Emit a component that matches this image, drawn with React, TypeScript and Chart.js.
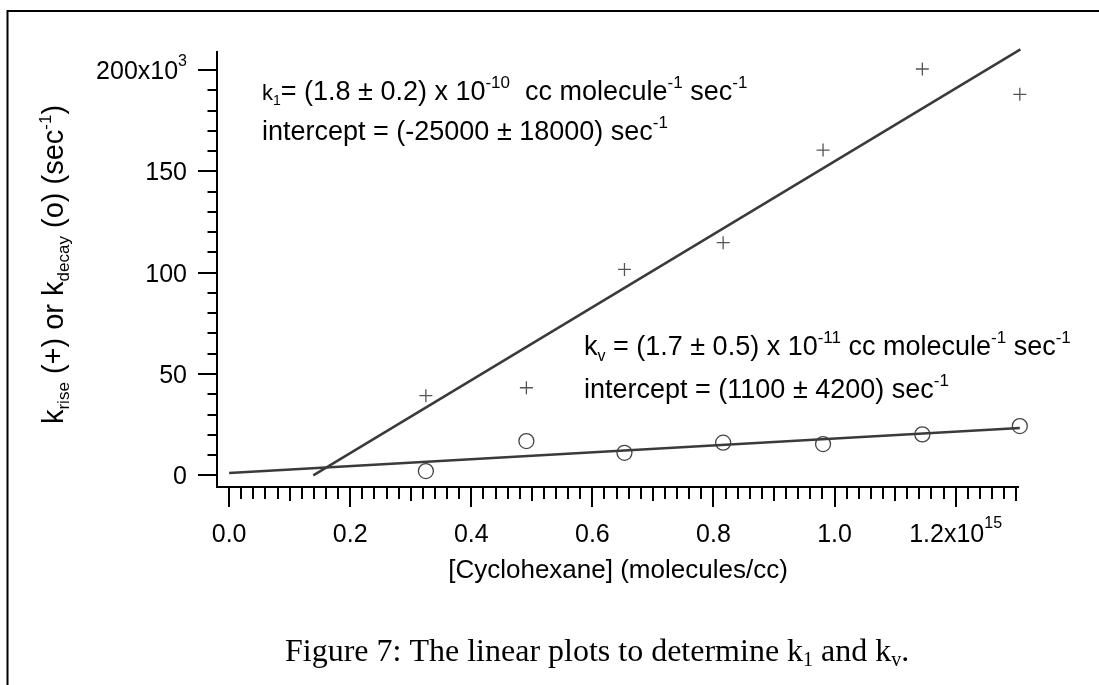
import React, { useEffect, useRef } from 'react';
import { Chart, registerables } from 'chart.js';

Chart.register(...registerables);

// ---- data (x in 10^15 molecules/cc, y in 10^3 sec^-1) ----
const concentration = [0.325, 0.491, 0.653, 0.816, 0.981, 1.145, 1.306];
const kRise = [39.3, 43.2, 101.6, 114.8, 160.5, 200.5, 188.0];
const kDecay = [2.1, 16.9, 11.1, 16.1, 15.4, 20.2, 24.3];

const riseFitX = [0.139, 1.307];
const riseFitY = [0.0, 210.2];
const decayFitX = [0.0, 1.306];
const decayFitY = [1.1, 23.3];

const xMajorTicks = [0, 0.2, 0.4, 0.6, 0.8, 1.0, 1.2];
const xTickLabels = ['0.0', '0.2', '0.4', '0.6', '0.8', '1.0', '1.2x10'];
const xTickExponents = ['', '', '', '', '', '', '15'];
const yMajorTicks = [0, 50, 100, 150, 200];
const yTickLabels = ['0', '50', '100', '150', '200x10'];
const yTickExponents = ['', '', '', '', '3'];

const SANS = '"Liberation Sans", Arial, sans-serif';
const SERIF = '"Liberation Serif", "Times New Roman", serif';

type Seg = { t: string; s: number; dy?: number };

function segWidth(ctx: CanvasRenderingContext2D, segs: Seg[], fam: string) {
  let w = 0;
  for (const g of segs) {
    ctx.font = `${g.s}px ${fam}`;
    w += ctx.measureText(g.t).width;
  }
  return w;
}

function drawRich(
  ctx: CanvasRenderingContext2D,
  x: number,
  y: number,
  segs: Seg[],
  fam: string,
  align: 'left' | 'center' | 'right' = 'left'
) {
  const w = segWidth(ctx, segs, fam);
  let cx = align === 'left' ? x : align === 'center' ? x - w / 2 : x - w;
  ctx.textAlign = 'left';
  ctx.textBaseline = 'alphabetic';
  for (const g of segs) {
    ctx.font = `${g.s}px ${fam}`;
    ctx.fillText(g.t, cx, y + (g.dy || 0));
    cx += ctx.measureText(g.t).width;
  }
}

const overlayPlugin = {
  id: 'overlay',
  afterDraw(chart: any) {
    const ctx: CanvasRenderingContext2D = chart.ctx;
    const xs = chart.scales.x;
    const ys = chart.scales.y;
    const area = chart.chartArea;
    ctx.save();
    ctx.fillStyle = '#000';
    ctx.strokeStyle = '#000';

    // page frame (top and left rules)
    ctx.lineWidth = 2;
    ctx.beginPath();
    ctx.moveTo(7.5, 685);
    ctx.lineTo(7.5, 11);
    ctx.lineTo(1099, 11);
    ctx.stroke();

    // y ticks
    ctx.lineWidth = 2;
    for (let v = 0; v <= 200; v += 10) {
      const py = Math.round(ys.getPixelForValue(v));
      const major = v % 50 === 0;
      const len = major ? 19 : 9.5;
      ctx.beginPath();
      ctx.moveTo(area.left - len, py);
      ctx.lineTo(area.left, py);
      ctx.stroke();
    }
    // x ticks
    for (let i = 0; i <= 65; i++) {
      const v = i * 0.02;
      const px = Math.round(xs.getPixelForValue(v));
      const major = i % 10 === 0;
      const mid = i % 5 === 0;
      const len = major ? 20 : mid ? 14 : 12;
      ctx.beginPath();
      ctx.moveTo(px, area.bottom);
      ctx.lineTo(px, area.bottom + len);
      ctx.stroke();
    }

    // y tick labels
    yMajorTicks.forEach((v, i) => {
      const py = ys.getPixelForValue(v);
      const segs: Seg[] = [{ t: yTickLabels[i], s: 25 }];
      if (yTickExponents[i]) segs.push({ t: yTickExponents[i], s: 16, dy: -13 });
      drawRich(ctx, 187, py + 9, segs, SANS, 'right');
    });
    // x tick labels
    xMajorTicks.forEach((v, i) => {
      const px = xs.getPixelForValue(v);
      const segs: Seg[] = [{ t: xTickLabels[i], s: 25 }];
      if (xTickExponents[i]) segs.push({ t: xTickExponents[i], s: 16, dy: -14 });
      drawRich(ctx, px, 541.5, segs, SANS, 'center');
    });

    // x axis title
    drawRich(ctx, 618, 578, [{ t: '[Cyclohexane] (molecules/cc)', s: 26 }], SANS, 'center');

    // y axis title (rotated)
    ctx.save();
    ctx.translate(63, 264.5);
    ctx.rotate(-Math.PI / 2);
    drawRich(
      ctx,
      0,
      0,
      [
        { t: 'k', s: 29 },
        { t: 'rise', s: 17, dy: 6 },
        { t: ' (+) or k', s: 29 },
        { t: 'decay', s: 17, dy: 6 },
        { t: ' (o) (sec', s: 29 },
        { t: '-1', s: 17, dy: -12 },
        { t: ')', s: 29 },
      ],
      SANS,
      'center'
    );
    ctx.restore();

    // annotation k1
    drawRich(
      ctx,
      262,
      100,
      [
        { t: 'k', s: 22 },
        { t: '1', s: 14, dy: 5 },
        { t: '= (1.8 ± 0.2) x 10', s: 27 },
        { t: '-10', s: 17, dy: -12 },
        { t: '  cc molecule', s: 27 },
        { t: '-1', s: 17, dy: -12 },
        { t: ' sec', s: 27 },
        { t: '-1', s: 17, dy: -12 },
      ],
      SANS
    );
    drawRich(
      ctx,
      262,
      140,
      [
        { t: 'intercept = (-25000 ± 18000) sec', s: 27 },
        { t: '-1', s: 17, dy: -12 },
      ],
      SANS
    );

    // annotation kv
    drawRich(
      ctx,
      584,
      355,
      [
        { t: 'k', s: 27 },
        { t: 'v', s: 16, dy: 6 },
        { t: ' = (1.7 ± 0.5) x 10', s: 27 },
        { t: '-11', s: 17, dy: -12 },
        { t: ' cc molecule', s: 27 },
        { t: '-1', s: 17, dy: -12 },
        { t: ' sec', s: 27 },
        { t: '-1', s: 17, dy: -12 },
      ],
      SANS
    );
    drawRich(
      ctx,
      584,
      398,
      [
        { t: 'intercept = (1100 ± 4200) sec', s: 27 },
        { t: '-1', s: 17, dy: -12 },
      ],
      SANS
    );

    // caption
    drawRich(
      ctx,
      285,
      661,
      [
        { t: 'Figure 7: The linear plots to determine k', s: 32 },
        { t: '1', s: 20, dy: 5 },
        { t: ' and k', s: 32 },
        { t: 'v', s: 20, dy: 5 },
        { t: '.', s: 32 },
      ],
      SERIF
    );

    ctx.restore();
  },
};

export default function App() {
  const canvasRef = useRef<HTMLCanvasElement | null>(null);

  useEffect(() => {
    const canvas = canvasRef.current;
    if (!canvas) return;
    const toPts = (xa: number[], ya: number[]) => xa.map((x, i) => ({ x, y: ya[i] }));

    const chart = new Chart(canvas, {
      type: 'scatter',
      data: {
        datasets: [
          {
            label: 'rise fit',
            data: toPts(riseFitX, riseFitY),
            showLine: true,
            borderColor: '#3a3a3a',
            borderWidth: 2.5,
            pointRadius: 0,
            clip: false as any,
          },
          {
            label: 'decay fit',
            data: toPts(decayFitX, decayFitY),
            showLine: true,
            borderColor: '#3a3a3a',
            borderWidth: 2.5,
            pointRadius: 0,
            clip: false as any,
          },
          {
            label: 'k rise',
            data: toPts(concentration, kRise),
            pointStyle: 'cross',
            pointRadius: 6.5,
            borderColor: '#555',
            borderWidth: 1.3,
            backgroundColor: 'transparent',
            clip: false as any,
          },
          {
            label: 'k decay',
            data: toPts(concentration, kDecay),
            pointStyle: 'circle',
            pointRadius: 7.5,
            borderColor: '#444',
            borderWidth: 1.3,
            backgroundColor: 'rgba(0,0,0,0)',
            clip: false as any,
          },
        ],
      },
      options: {
        responsive: false,
        maintainAspectRatio: false,
        animation: false,
        events: [],
        layout: { padding: { left: 217, right: 81, top: 52, bottom: 198 } },
        plugins: {
          legend: { display: false },
          tooltip: { enabled: false },
        },
        scales: {
          x: {
            type: 'linear',
            min: -0.02,
            max: 1.303,
            ticks: { display: false },
            grid: { display: false, drawTicks: false },
            border: { display: true, color: '#000', width: 2 },
          },
          y: {
            type: 'linear',
            min: -5.77,
            max: 208.9,
            ticks: { display: false },
            grid: { display: false, drawTicks: false },
            border: { display: true, color: '#000', width: 2 },
          },
        },
      },
      plugins: [overlayPlugin],
    });
    return () => chart.destroy();
  }, []);

  return (
    <div style={{ position: 'fixed', left: 0, top: 0, width: 1099, height: 685, background: '#fff' }}>
      <canvas ref={canvasRef} width={1099} height={685} style={{ display: 'block', width: 1099, height: 685 }} />
    </div>
  );
}
